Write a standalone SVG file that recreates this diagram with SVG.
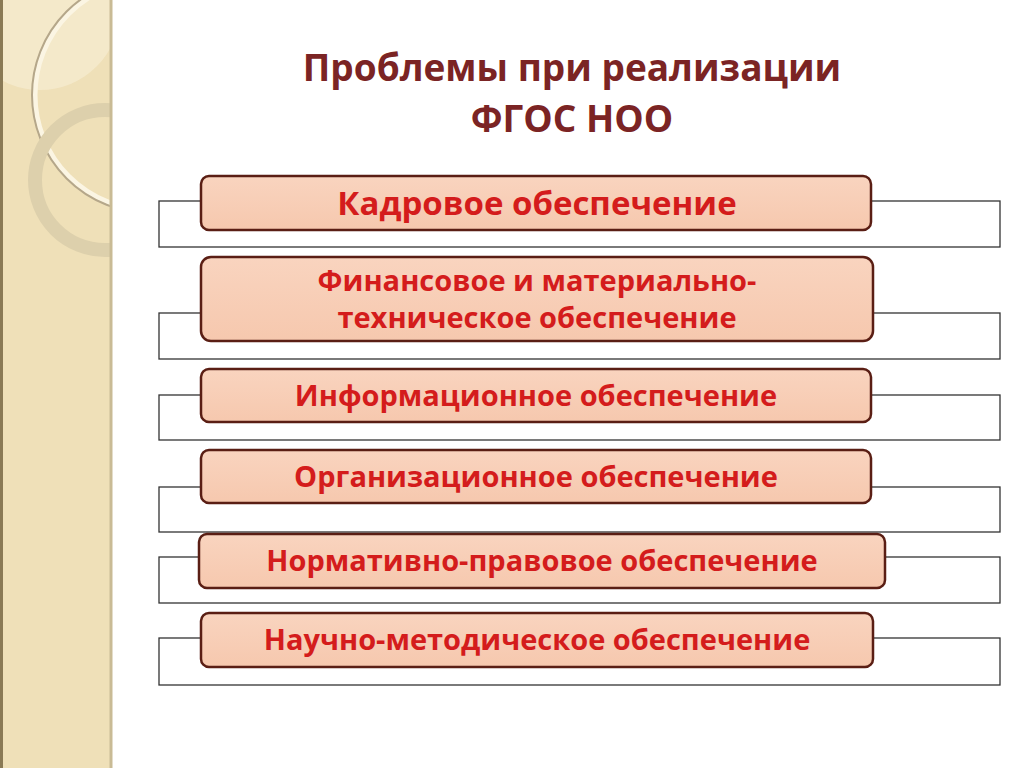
<svg xmlns="http://www.w3.org/2000/svg" width="1024" height="768" viewBox="0 0 1024 768">
<defs>
<style>
.frame{fill:#fff;stroke:#333;stroke-width:1.3}
.box{fill:url(#g);stroke:#5a1e14;stroke-width:2.5}
.t{font-family:"Open Sans","Noto Sans",sans-serif;font-weight:bold;font-size:29px;fill:#d41c1c;text-anchor:middle}
.h{font-family:"Open Sans","Noto Sans",sans-serif;font-weight:bold;font-size:37px;fill:#7b2424;text-anchor:middle}
</style>
<linearGradient id="g" x1="0" y1="0" x2="0" y2="1"><stop offset="0" stop-color="#f9d4bf"/><stop offset="1" stop-color="#f6c8ae"/></linearGradient>
<clipPath id="c"><rect x="0" y="0" width="112" height="768"/></clipPath>
</defs>
<rect width="1024" height="768" fill="#fff"/>
<g id="panel">
<rect x="0" y="0" width="112" height="768" fill="#efe0b8"/>
<g clip-path="url(#c)" fill="none">
<circle cx="40" cy="10" r="80" fill="#f6ecd2" opacity="0.7"/>
<circle cx="150" cy="95" r="115" stroke="#fbf5e3" stroke-width="5"/>
<circle cx="150" cy="95" r="118" stroke="#b5a78a" stroke-width="2"/>
<circle cx="105" cy="180" r="70" stroke="#ddd0ac" stroke-width="14"/>
</g>
<rect x="0" y="0" width="3" height="768" fill="#8a7a55"/>
<line x1="111" y1="0" x2="111" y2="768" stroke="#c9bb95" stroke-width="3"/>
</g>
<text class="h" x="572" y="81">Проблемы при реализации</text>
<text class="h" x="572" y="132">ФГОС НОО</text>
<g id="connectors">
<rect class="frame" x="159" y="201" width="841" height="46"/>
<rect class="frame" x="159" y="313" width="841" height="46"/>
<rect class="frame" x="159" y="395" width="841" height="45"/>
<rect class="frame" x="159" y="487" width="841" height="45"/>
<rect class="frame" x="159" y="557" width="841" height="46"/>
<rect class="frame" x="159" y="638" width="841" height="47"/>
</g>
<g id="n1"><rect class="box" x="201" y="176" width="670" height="54" rx="8"/><text class="t" x="537" y="215" style="font-size:33px">Кадровое обеспечение</text></g>
<g id="n2"><rect class="box" x="201" y="257" width="672" height="84" rx="10"/><text class="t" x="537" y="291">Финансовое и материально-</text><text class="t" x="537" y="328">техническое обеспечение</text></g>
<g id="n3"><rect class="box" x="201" y="369" width="670" height="53" rx="8"/><text class="t" x="536" y="406">Информационное обеспечение</text></g>
<g id="n4"><rect class="box" x="201" y="450" width="670" height="53" rx="8"/><text class="t" x="536" y="487">Организационное обеспечение</text></g>
<g id="n5"><rect class="box" x="199" y="534" width="686" height="54" rx="8"/><text class="t" x="542" y="571">Нормативно-правовое обеспечение</text></g>
<g id="n6"><rect class="box" x="201" y="613" width="672" height="54" rx="8"/><text class="t" x="537" y="650">Научно-методическое обеспечение</text></g>
</svg>
